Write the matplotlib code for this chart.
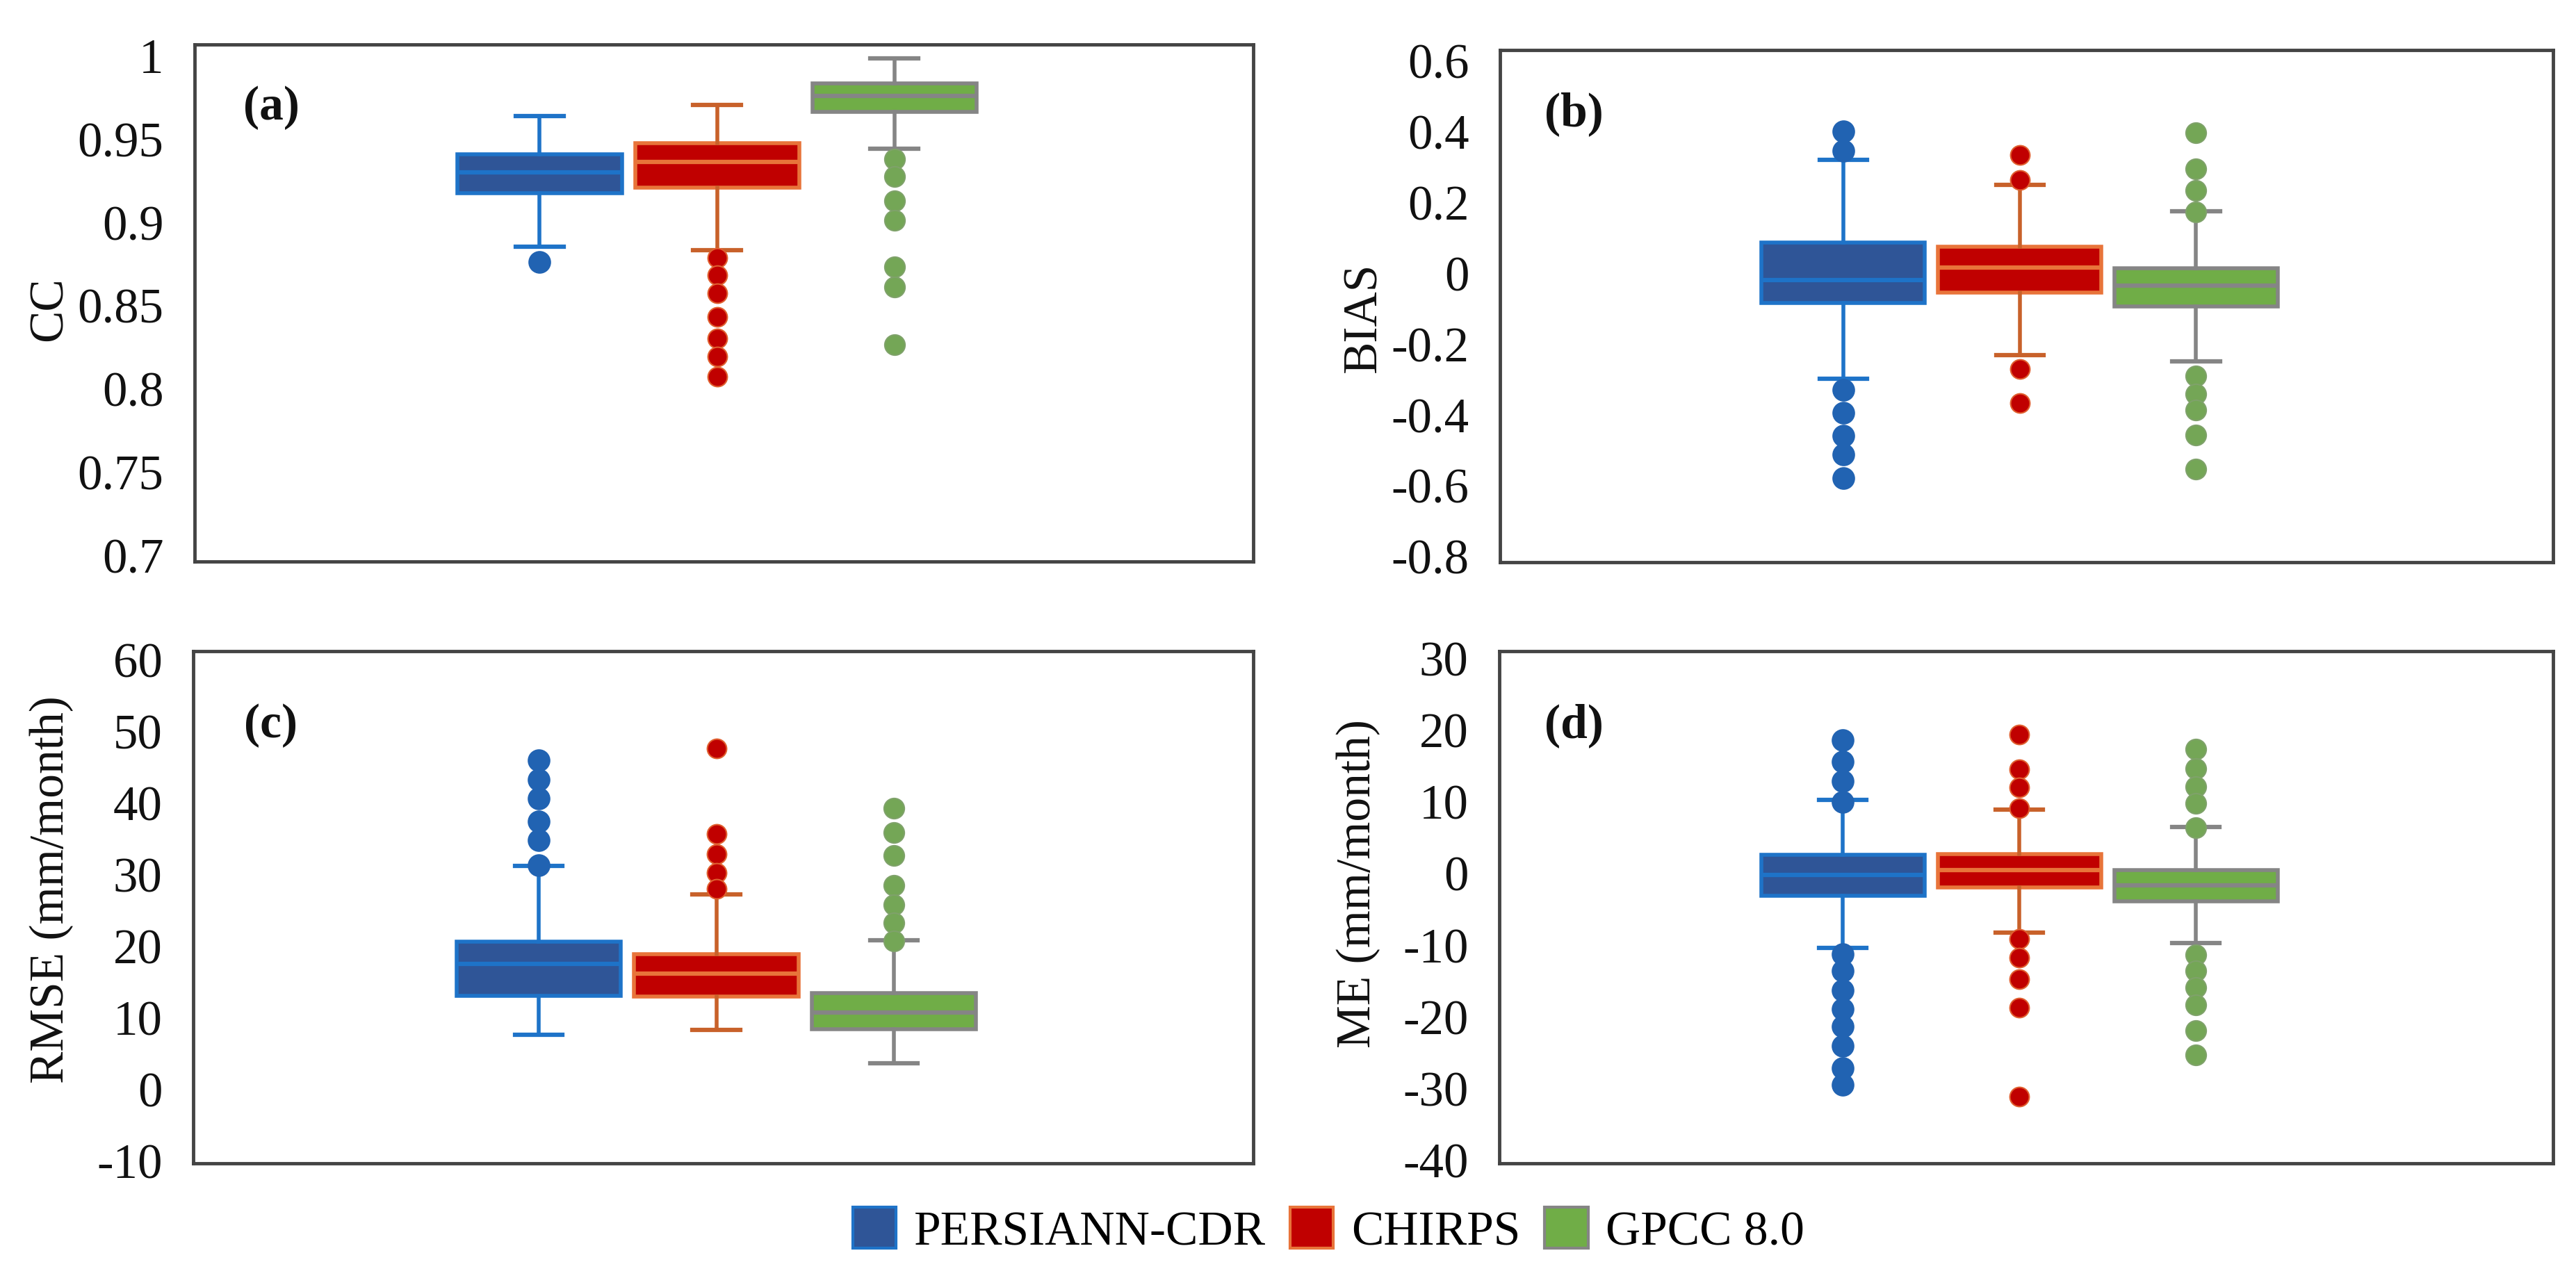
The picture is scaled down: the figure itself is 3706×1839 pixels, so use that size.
import matplotlib
matplotlib.use("Agg")
import matplotlib.pyplot as plt
from matplotlib.patches import Patch
import numpy as np

plt.rcParams['font.family'] = ['Liberation Serif', 'DejaVu Serif']

# ---------------- data ----------------
series = ["PERSIANN-CDR", "CHIRPS", "GPCC 8.0"]

# (a) CC
cc_q1 = [0.917, 0.9205, 0.966]
cc_med = [0.9295, 0.9357, 0.9755]
cc_q3 = [0.9405, 0.947, 0.983]
cc_lo = [0.885, 0.883, 0.944]
cc_hi = [0.9636, 0.970, 0.998]
cc_out_p = [0.876]
cc_out_c = [0.8784, 0.868, 0.857, 0.843, 0.830, 0.819, 0.807]
cc_out_g = [0.9375, 0.927, 0.9125, 0.901, 0.873, 0.861, 0.826]
cc_ticks = [0.7, 0.75, 0.8, 0.85, 0.9, 0.95, 1.0]
cc_ticklabels = ["0.7", "0.75", "0.8", "0.85", "0.9", "0.95", "1"]

# (b) BIAS
bias_q1 = [-0.0856, -0.056, -0.096]
bias_med = [-0.02, 0.014, -0.037]
bias_q3 = [0.0856, 0.073, 0.013]
bias_lo = [-0.30, -0.233, -0.251]
bias_hi = [0.318, 0.249, 0.173]
bias_out_p = [0.399, 0.345, -0.332, -0.396, -0.46, -0.513, -0.58]
bias_out_c = [0.332, 0.262, -0.273, -0.369]
bias_out_g = [0.396, 0.294, 0.232, 0.171, -0.292, -0.342, -0.388, -0.458, -0.554]
bias_ticks = [-0.8, -0.6, -0.4, -0.2, 0, 0.2, 0.4, 0.6]
bias_ticklabels = ["-0.8", "-0.6", "-0.4", "-0.2", "0", "0.2", "0.4", "0.6"]

# (c) RMSE
rmse_q1 = [13.0, 12.9, 8.3]
rmse_med = [17.4, 16.1, 10.7]
rmse_q3 = [20.5, 18.8, 13.4]
rmse_lo = [7.5, 8.2, 3.6]
rmse_hi = [31.1, 27.1, 20.7]
rmse_out_p = [45.9, 43.2, 40.5, 37.3, 34.7, 31.2]
rmse_out_c = [47.5, 35.6, 32.8, 30.2, 27.9]
rmse_out_g = [39.2, 35.8, 32.6, 28.4, 25.7, 23.2, 20.6]
rmse_ticks = [-10, 0, 10, 20, 30, 40, 50, 60]
rmse_ticklabels = ["-10", "0", "10", "20", "30", "40", "50", "60"]

# (d) ME
me_q1 = [-3.2, -2.0, -4.0]
me_med = [-0.3, 0.4, -1.7]
me_q3 = [2.5, 2.6, 0.4]
me_lo = [-10.5, -8.3, -9.8]
me_hi = [10.2, 8.8, 6.4]
me_out_p = [18.5, 15.5, 12.8, 9.9, -11.3, -13.7, -16.4, -19.0, -21.4, -24.1, -27.2, -29.6]
me_out_c = [19.3, 14.4, 11.9, 9.0, -9.2, -11.8, -14.8, -18.8, -31.2]
me_out_g = [17.2, 14.5, 12.0, 9.7, 6.3, -11.4, -13.7, -16.0, -18.4, -22.0, -25.4]
me_ticks = [-40, -30, -20, -10, 0, 10, 20, 30]
me_ticklabels = ["-40", "-30", "-20", "-10", "0", "10", "20", "30"]

# ---------------- styles ----------------
fills = ["#2F5597", "#C00000", "#70AD47"]
edges = ["#1E73C8", "#E8743A", "#858585"]
whisk = ["#1E73C8", "#C8612A", "#858585"]
flier_fc = ["#2163B2", "#C00000", "#74A656"]
flier_ec = ["#2163B2", "#E06030", "#7FA26A"]
flier_ms = [22, 20, 21]

W, H = 3706, 1840
fig = plt.figure(figsize=(W / 100, H / 100), dpi=100)


def add_ax(left, right, top, bottom):
    return fig.add_axes([left / W, 1 - bottom / H, (right - left) / W, (bottom - top) / H])


panels = [
    dict(rect=(280, 1803, 65, 809), q1=cc_q1, med=cc_med, q3=cc_q3, lo=cc_lo, hi=cc_hi,
         out=[cc_out_p, cc_out_c, cc_out_g], ticks=cc_ticks, tl=cc_ticklabels,
         ylim=(0.696, 1.0064), ylabel="CC", tag="(a)", lab_xy=(-0.116, 0.49), tag_xy=(0.046, 0.922)),
    dict(rect=(2158, 3673, 73, 810), q1=bias_q1, med=bias_med, q3=bias_q3, lo=bias_lo, hi=bias_hi,
         out=[bias_out_p, bias_out_c, bias_out_g], ticks=bias_ticks, tl=bias_ticklabels,
         ylim=(-0.818, 0.629), ylabel="BIAS", tag="(b)", lab_xy=(-0.108, 0.479), tag_xy=(0.042, 0.92)),
    dict(rect=(278, 1803, 938, 1675), q1=rmse_q1, med=rmse_med, q3=rmse_q3, lo=rmse_lo, hi=rmse_hi,
         out=[rmse_out_p, rmse_out_c, rmse_out_g], ticks=rmse_ticks, tl=rmse_ticklabels,
         ylim=(-10.4, 61.1), ylabel="RMSE (mm/month)", tag="(c)", lab_xy=(-0.113, 0.536), tag_xy=(0.048, 0.90)),
    dict(rect=(2157, 3673, 938, 1675), q1=me_q1, med=me_med, q3=me_q3, lo=me_lo, hi=me_hi,
         out=[me_out_p, me_out_c, me_out_g], ticks=me_ticks, tl=me_ticklabels,
         ylim=(-40.5, 30.9), ylabel="ME (mm/month)", tag="(d)", lab_xy=(-0.113, 0.548), tag_xy=(0.043, 0.90)),
]

positions = 0.326 + 0.1675 * np.arange(3)
box_w = 0.155
cap_w = 0.045

for p in panels:
    ax = add_ax(*p["rect"])
    for i in range(3):
        stats = [dict(med=p["med"][i], q1=p["q1"][i], q3=p["q3"][i],
                      whislo=p["lo"][i], whishi=p["hi"][i], fliers=p["out"][i])]
        ax.bxp(stats, positions=[positions[i]], widths=box_w, capwidths=cap_w,
               patch_artist=True, manage_ticks=False,
               boxprops=dict(facecolor=fills[i], edgecolor=edges[i], linewidth=4),
               medianprops=dict(color=edges[i], linewidth=4.5, solid_capstyle='butt'),
               whiskerprops=dict(color=whisk[i], linewidth=4),
               capprops=dict(color=whisk[i], linewidth=4.5),
               flierprops=dict(marker='o', markerfacecolor=flier_fc[i],
                               markeredgecolor=flier_ec[i], markeredgewidth=1.5,
                               markersize=flier_ms[i], linestyle='none'))
    ax.set_xlim(0, 1)
    ax.set_ylim(*p["ylim"])
    ax.set_xticks([])
    ax.set_yticks(p["ticks"], p["tl"])
    ax.tick_params(axis='y', length=0, pad=32, labelsize=51, labelcolor='#111111')
    for s in ax.spines.values():
        s.set_color('#444444')
        s.set_linewidth(3.5)
    ax.set_ylabel(p["ylabel"], fontsize=50, color='#111111')
    ax.yaxis.set_label_coords(*p["lab_xy"])
    ax.text(p["tag_xy"][0], p["tag_xy"][1], p["tag"], transform=ax.transAxes,
            fontsize=50, fontweight='bold', va='top', ha='left', color='#111111')

handles = [Patch(facecolor=fills[i], edgecolor=edges[i], linewidth=3) for i in range(3)]
fig.legend(handles, series, loc='center', bbox_to_anchor=(0.5158, 1 - 1772 / H),
           ncol=3, frameon=False, fontsize=50, handlelength=0.9, handleheight=0.95,
           handletextpad=0.37, columnspacing=0.5)

fig.savefig("out.png", dpi=100, facecolor='white')
